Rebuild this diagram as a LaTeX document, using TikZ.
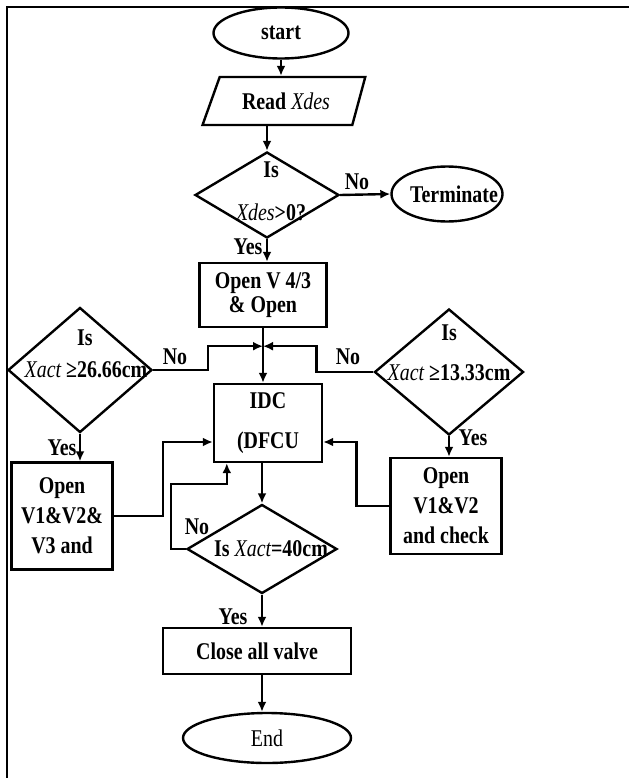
\documentclass[tikz,border=0pt]{standalone}
\usepackage{fontspec}
\setmainfont[FakeStretch=0.83]{Liberation Serif}
\usetikzlibrary{arrows.meta,shapes.geometric,calc}
\newcommand{\vname}[1]{{\mdseries\itshape #1}}

\begin{document}
\begin{tikzpicture}[
  x=1pt, y=-1pt,
  font=\fontsize{24}{24}\selectfont\bfseries,
  term/.style={draw, ellipse, line width=2.4pt, inner sep=0pt},
  proc/.style={draw, rectangle, line width=2.4pt, inner sep=0pt, align=center},
  dec/.style={draw, diamond, line width=2.4pt, inner sep=0pt},
  io/.style={draw, trapezium, trapezium left angle=56, trapezium right angle=117, trapezium stretches=true, line width=2.4pt, inner sep=0pt},
  txt/.style={inner sep=0pt},
  lbl/.style={inner sep=0pt},
  arr/.style={-{Latex[length=10pt,width=9pt]}, line width=2.4pt}
]
\useasboundingbox (0,0) rectangle (629,778);
% frame
\draw[line width=2pt] (7,778) -- (7,7) -- (629,7);

% main column
\node[term, minimum width=135pt, minimum height=51pt] (start) at (281,33) {start};
\node[io, minimum width=163pt, minimum height=48pt] (read) at (286,101) {Read \vname{Xdes}};
\node[dec, minimum width=144pt, minimum height=86pt] (isdes) at (267,195) {};
\node[txt] (isdes1) at ($(isdes)+(4,-25)$) {Is};
\node[txt] (isdes2) at ($(isdes)+(4,17)$) {\vname{Xdes}>0?};
\node[term, minimum width=111pt, minimum height=55pt] (term) at (447,194) {};
\node[txt] (termt) at ($(term)+(7,0)$) {Terminate};
\node[proc, minimum width=127pt, minimum height=64pt] (open43) at (263,295) {Open V 4/3\\\& Open};
\coordinate (join) at ($(open43.south)+(0,18)$);
\node[proc, minimum width=108pt, minimum height=78pt] (idc) at (268,423) {IDC\\[16pt](DFCU};
\node[dec, minimum width=150pt, minimum height=89pt] (isforty) at (262,549) {};
\node[txt] (isforty1) at ($(isforty)+(9,0)$) {Is \vname{Xact}=40cm};
\node[proc, minimum width=188pt, minimum height=46pt] (close) at (257,651) {Close all valve};
\node[term, minimum width=168pt, minimum height=50pt, font=\fontsize{24}{24}\selectfont\mdseries] (end) at (267,738) {End};

% side branches
\node[dec, minimum width=144pt, minimum height=125pt] (isleft) at (80,370) {};
\node[txt] (isleft1) at ($(isleft)+(5,-32)$) {Is};
\node[txt] (isleft2) at ($(isleft)+(6,0)$) {\vname{Xact} ≥26.66cm};
\node[proc, minimum width=101pt, minimum height=107pt] (openl) at (62,516) {Open\\[6pt]V1\&V2\&\\[6pt]V3 and};
\node[dec, minimum width=149pt, minimum height=126pt] (isright) at (449,372) {};
\node[txt] (isright1) at ($(isright)+(0,-39)$) {Is};
\node[txt] (isright2) at ($(isright)+(0,1)$) {\vname{Xact} ≥13.33cm};
\node[proc, minimum width=111pt, minimum height=96pt] (openr) at (446,506) {Open\\[6pt]V1\&V2\\[6pt]and check};

% labels
\node[lbl] (notop) at (357,182) {No};
\node[lbl] (yestop) at (248,247) {Yes};
\node[lbl] (noleft) at (175,357) {No};
\node[lbl] (noright) at (348,357) {No};
\node[lbl] (yesleft) at (62,448) {Yes};
\node[lbl] (yesright) at (473,438) {Yes};
\node[lbl] (noloop) at (197,527) {No};
\node[lbl] (yesbot) at (233,617) {Yes};

% connectors
\draw[arr] (start.south) -- (start.south |- read.north);
\draw[arr] (read.south -| isdes.north) -- (isdes.north);
\draw[arr] (isdes.east) -- (term.west);
\draw[arr] (isdes.south) -- (isdes.south |- open43.north);
\draw[arr] (open43.south) -- (open43.south |- idc.north);
\draw[arr] (isleft.east) -- ++(55,0) |- (join);
\draw[arr] (isright.west) -- ++(-57,0) |- (join);
\draw[arr] (isleft.south) -- (isleft.south |- openl.north);
\draw[arr] (openl.east) -- ++(49,0) |- ($(idc.west)+(0,19)$);
\draw[arr] (isright.south) -- (isright.south |- openr.north);
\draw[arr] (openr.west) -- ++(-33,0) |- ($(idc.east)+(0,19)$);
\draw[arr] (idc.south -| isforty.north) -- (isforty.north);
\draw[arr] (isforty.west) -- ++(-15,0) |- ($(idc.south west)+(14,21)$) -- ($(idc.south west)+(14,0)$);
\draw[arr] (isforty.south) -- (isforty.south |- close.north);
\draw[arr] (close.south -| isforty.south) -- (end.north -| isforty.south);
\end{tikzpicture}
\end{document}
